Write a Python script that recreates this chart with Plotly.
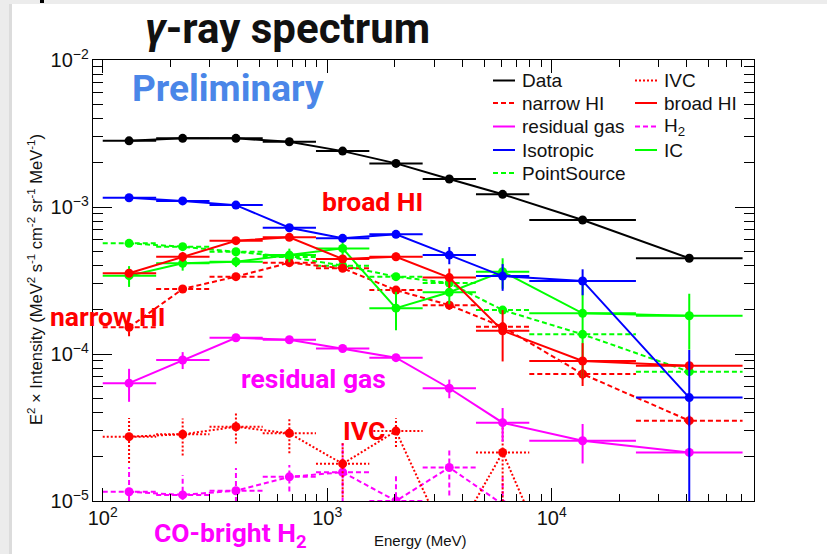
import numpy as np
import plotly.graph_objects as go

# ---------------------------------------------------------------- data
# Energy bins (MeV): lower / upper edges and log-centres
e_lo = [100, 173, 299, 516, 891, 1540, 2661, 4597, 7943, 23714]
e_hi = [173, 299, 516, 891, 1540, 2661, 4597, 7943, 23714, 70795]
energy = [131, 227, 392, 678, 1171, 2024, 3497, 6043, 13725, 40973]

# E^2 x intensity (MeV^2 s^-1 cm^-2 sr^-1 MeV^-1) and 1-sigma errors
data_val = [2.82e-3, 2.93e-3, 2.93e-3, 2.78e-3, 2.40e-3, 1.98e-3, 1.55e-3, 1.22e-3, 8.16e-4, 4.48e-4]
data_err = [5.6e-5, 5.9e-5, 5.9e-5, 5.6e-5, 4.8e-5, 4.0e-5, 3.1e-5, 2.4e-5, 1.6e-5, 9.0e-6]

iso_val = [1.156e-3, 1.10e-3, 1.03e-3, 7.23e-4, 6.12e-4, 6.52e-4, 4.71e-4, 3.39e-4, 3.14e-4, 5.05e-5]
iso_err = [2.3e-5, 2.2e-5, 2.1e-5, 1.8e-5, 1.8e-5, 2.5e-5, 6.3e-5, 7.0e-5, 6.3e-5, 5.6e-5]

broad_val = [3.54e-4, 4.59e-4, 5.90e-4, 6.22e-4, 4.43e-4, 4.59e-4, 3.31e-4, 1.44e-4, 8.96e-5, 8.32e-5]
broad_err = [1.5e-5, 3.5e-5, 2.0e-5, 2.0e-5, 2.0e-5, 3.0e-5, 5.0e-5, 5.5e-5, 2.9e-5, 5.0e-6]

narrow_val = [1.52e-4, 2.77e-4, 3.36e-4, 4.18e-4, 3.83e-4, 2.72e-4, 2.15e-4, 1.53e-4, 7.31e-5, 3.52e-5]
narrow_err = [2.0e-5, 1.5e-5, 1.5e-5, 1.5e-5, 1.5e-5, 1.5e-5, 1.5e-5, 1.2e-5, 6.0e-6, 3.0e-6]

ic_val = [3.41e-4, 4.14e-4, 4.25e-4, 4.71e-4, 5.23e-4, 2.05e-4, 2.63e-4, 3.63e-4, 1.89e-4, 1.82e-4]
ic_err = [5.5e-5, 4.5e-5, 3.5e-5, 5.0e-5, 5.5e-5, 6.0e-5, 4.5e-5, 8.5e-5, 1.2e-4, 7.5e-5]

ps_val = [5.66e-4, 5.37e-4, 4.96e-4, 4.57e-4, 3.99e-4, 3.36e-4, 3.04e-4, 1.99e-4, 1.36e-4, 7.58e-5]
ps_err = [1.7e-5, 1.6e-5, 1.5e-5, 1.4e-5, 1.2e-5, 1.0e-5, 9.0e-6, 6.0e-6, 4.0e-6, 2.3e-6]

resid_val = [6.33e-5, 9.10e-5, 1.29e-4, 1.25e-4, 1.09e-4, 9.44e-5, 5.85e-5, 3.41e-5, 2.57e-5, 2.14e-5]
resid_err = [1.6e-5, 1.2e-5, 4.0e-6, 4.0e-6, 3.5e-6, 3.5e-6, 8.5e-6, 8.8e-6, 7.7e-6, 1.5e-6]

ivc_val = [2.74e-5, 2.84e-5, 3.20e-5, 2.89e-5, 1.79e-5, 2.99e-5, 4.9e-6, 2.14e-5, 1.2e-6, 1.0e-6]
ivc_err = [9.3e-6, 8.0e-6, 7.4e-6, 7.8e-6, 7.3e-6, 6.6e-6, 4.0e-6, 1.5e-5, 1.0e-6, 1.0e-6]

h2_val = [1.156e-5, 1.10e-5, 1.175e-5, 1.46e-5, 1.57e-5, 1.0e-5, 1.69e-5, 9.5e-6, 4.0e-6, 2.0e-6]
h2_err = [5.5e-6, 4.0e-6, 5.0e-6, 3.0e-6, 9.0e-6, 5.0e-6, 6.0e-6, 5.0e-6, 2.0e-6, 1.0e-6]

# ---------------------------------------------------------------- styles
RED, GREEN, BLUE, MAGENTA, BLACK = "#ff0000", "#00ff00", "#0000ff", "#ff00ff", "#000000"
SOLID, DASHED, DOTTED = "solid", "5px,3px", "2px,2px"

series = [
    # name, values, errors, colour, dash
    ("H2", h2_val, h2_err, MAGENTA, DASHED),
    ("IVC", ivc_val, ivc_err, RED, DOTTED),
    ("residual gas", resid_val, resid_err, MAGENTA, SOLID),
    ("PointSource", ps_val, ps_err, GREEN, DASHED),
    ("narrow HI", narrow_val, narrow_err, RED, DASHED),
    ("IC", ic_val, ic_err, GREEN, SOLID),
    ("broad HI", broad_val, broad_err, RED, SOLID),
    ("Isotropic", iso_val, iso_err, BLUE, SOLID),
    ("Data", data_val, data_err, BLACK, SOLID),
]

# plot frame in pixels (figure 827 x 554)
W, H = 827, 554
L, R, T, B = 93, 754, 60, 501


def px(x):
    return (x - L) / (R - L)


def py(y):
    return (B - y) / (B - T)


fig = go.Figure()

for name, val, err, col, dash in series:
    ex, ey = [], []
    for e, lo, hi, v, s in zip(energy, e_lo, e_hi, val, err):
        # horizontal bar over the energy bin
        ex += [lo, hi, None]
        ey += [v, v, None]
        # vertical error bar (kept positive for the log axis)
        ex += [e, e, None]
        ey += [max(v - s, 1e-8), v + s, None]
    fig.add_trace(go.Scatter(
        x=ex, y=ey, mode="lines", showlegend=False, hoverinfo="skip",
        line=dict(color=col, width=2, dash=dash),
    ))
    fig.add_trace(go.Scatter(
        x=energy, y=val, mode="lines+markers", name=name, showlegend=False,
        line=dict(color=col, width=2, dash=dash),
        marker=dict(color=col, size=9, symbol="circle"),
    ))

# ---------------------------------------------------------------- legend (two columns)
legend_rows = [
    # text, colour, dash, column, row
    ("Data", BLACK, SOLID, 0, 0),
    ("narrow HI", RED, DASHED, 0, 1),
    ("residual gas", MAGENTA, SOLID, 0, 2),
    ("Isotropic", BLUE, SOLID, 0, 3),
    ("PointSource", GREEN, DASHED, 0, 4),
    ("IVC", RED, DOTTED, 1, 0),
    ("broad HI", RED, SOLID, 1, 1),
    ("H<sub>2</sub>", MAGENTA, DASHED, 1, 2),
    ("IC", GREEN, SOLID, 1, 3),
]
col_line = [(493, 515), (635, 657)]
col_text = [520, 662]
row_y = [80.5, 103, 126.5, 150, 173]

shapes = []
annotations = []
for text, col, dash, c, r in legend_rows:
    y = row_y[r]
    shapes.append(dict(type="line", xref="paper", yref="paper",
                       x0=px(col_line[c][0]), x1=px(col_line[c][1]), y0=py(y), y1=py(y),
                       line=dict(color=col, width=2, dash=dash)))
    annotations.append(dict(text=text, xref="paper", yref="paper", x=px(col_text[c]), y=py(y),
                            xanchor="left", yanchor="middle", showarrow=False,
                            font=dict(family="Liberation Sans", size=19, color="#111111")))

# ---------------------------------------------------------------- slide frame (grey edge)
shapes += [
    dict(type="rect", xref="paper", yref="paper", x0=px(0), x1=px(11), y0=py(W), y1=py(0),
         fillcolor="#ececec", line=dict(width=0), layer="below"),
    dict(type="rect", xref="paper", yref="paper", x0=px(9), x1=px(12), y0=py(H), y1=py(4),
         fillcolor="#dcdcdc", line=dict(width=0), layer="below"),
    dict(type="rect", xref="paper", yref="paper", x0=px(0), x1=px(W), y0=py(4), y1=py(0),
         fillcolor="#ececec", line=dict(width=0), layer="below"),
    dict(type="rect", xref="paper", yref="paper", x0=px(40), x1=px(44), y0=py(3), y1=py(0),
         fillcolor="#000000", line=dict(width=0)),
]

# ---------------------------------------------------------------- slide text
BOLD = "Roboto"


def label(text, x, y, size, color, family=BOLD):
    annotations.append(dict(text=f"<b>{text}</b>", xref="paper", yref="paper",
                            x=px(x), y=py(y), xanchor="center", yanchor="middle",
                            showarrow=False, font=dict(family=family, size=size, color=color)))


label("<i>γ</i>-ray spectrum", 287, 28, 42, "#111111")
label("Preliminary", 228, 88, 37, "#4a86e8")
label("broad HI", 372, 201, 26.5, RED)
label("narrow HI", 108, 316, 26.5, RED)
label("residual gas", 313, 378, 26.5, MAGENTA)
label("IVC", 364, 430, 26.5, RED)
label("CO-bright H<sub>2</sub>", 230, 535, 26.5, MAGENTA)

# axis titles
annotations.append(dict(
    text="E<sup>2</sup> × Intensity (MeV<sup>2</sup> s<sup>-1</sup> cm<sup>-2</sup> sr<sup>-1</sup> MeV<sup>-1</sup>)",
    xref="paper", yref="paper", x=px(35), y=py(280), textangle=-90,
    xanchor="center", yanchor="middle", showarrow=False,
    font=dict(family="Liberation Sans", size=16.5, color="#111111")))
annotations.append(dict(
    text="Energy (MeV)", xref="paper", yref="paper", x=px(420), y=py(540),
    xanchor="center", yanchor="middle", showarrow=False,
    font=dict(family="Liberation Sans", size=15, color="#111111")))

axis_common = dict(
    type="log", showgrid=False, zeroline=False, showline=True, linecolor="black", linewidth=1,
    mirror="allticks", ticks="inside", tickcolor="black", tickwidth=1,
    dtick=1, exponentformat="power", showexponent="all",
    tickfont=dict(family="Liberation Sans", size=16, color="#111111"),
)

fig.update_layout(
    width=W, height=H,
    margin=dict(l=L, r=W - R, t=T, b=H - B, pad=0),
    paper_bgcolor="white", plot_bgcolor="white",
    showlegend=False,
    xaxis=dict(axis_common, range=[np.log10(90.5), np.log10(79600)], ticklen=13,
               minor=dict(ticks="inside", ticklen=7, dtick="D1", tickcolor="black")),
    yaxis=dict(axis_common, range=[-5, -2], ticklen=19,
               minor=dict(ticks="inside", ticklen=10, dtick="D1", tickcolor="black")),
    shapes=shapes,
    annotations=annotations,
)

fig.write_html("out.html")
